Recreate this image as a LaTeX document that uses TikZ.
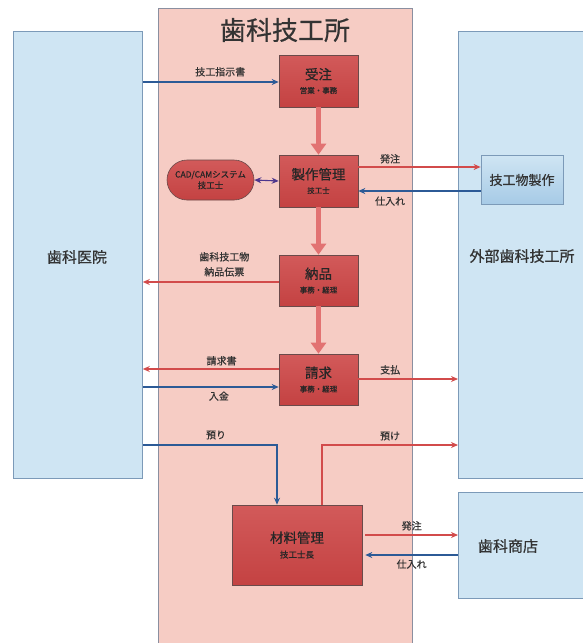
\documentclass[tikz,border=0pt]{standalone}
\usepackage{fontspec}
\setmainfont{Noto Sans CJK JP}[FakeBold=0.6]
\usetikzlibrary{arrows.meta,calc}
\definecolor{pinkbg}{HTML}{F6CCC4}
\definecolor{pinkedge}{HTML}{8A8FA0}
\definecolor{boxred}{HTML}{D25A5A}
\definecolor{boxredD}{HTML}{C44242}
\definecolor{boxedge}{HTML}{6A4A4A}
\definecolor{bluebg}{HTML}{CFE5F3}
\definecolor{bluedark}{HTML}{A6CAE6}
\definecolor{blueedge}{HTML}{7C9AB8}
\definecolor{arrred}{HTML}{D24B4B}
\definecolor{arrblue}{HTML}{2C5A96}
\definecolor{flowpink}{HTML}{E27272}
\definecolor{txt}{HTML}{333333}
\newcommand{\boxttl}{\fontsize{13.5}{15}\selectfont}
\newcommand{\boxsub}{\fontsize{7.5}{9}\selectfont}
\tikzset{
  outer/.style={draw=blueedge,fill=bluebg,line width=0.8pt,text=txt},
  bigtxt/.style={font=\fontsize{15}{17}\selectfont,text=txt},
  redbox/.style={draw=boxedge,top color=boxred,bottom color=boxredD,line width=0.6pt,text=black!85},
  redline/.style={draw=arrred,line width=1.1pt,-{Stealth[length=7pt,width=6pt]}},
  blueline/.style={draw=arrblue,line width=1.1pt,-{Stealth[length=7pt,width=6pt]}},
  flow/.style={draw=flowpink,line width=5pt,-{Triangle[length=11pt,width=15pt]}},
  lbl/.style={font=\fontsize{10}{12}\selectfont,text=txt,inner sep=0pt},
}
\begin{document}
\begin{tikzpicture}[x=1pt,y=-1pt]
\useasboundingbox (0,0) rectangle (582,643);
\fill[white] (0,0) rectangle (582,643);
% containers
\node[outer,minimum width=129pt,minimum height=447pt,anchor=north west,inner sep=0pt] (clinic) at (13,31) {};
\node[bigtxt] (clinicT) at (77,257) {歯科医院};
\draw[draw=pinkedge,fill=pinkbg,line width=0.8pt] (158,650) -- (158,8) -- (412,8) -- (412,650);
\node[font=\fontsize{26}{28}\selectfont,text=black!80] (title) at (285,30) {歯科技工所};
\node[outer,minimum width=130pt,minimum height=447pt,anchor=north west,inner sep=0pt] (ext) at (458,31) {};
\node[bigtxt] (extT) at (522,256) {外部歯科技工所};
\node[outer,minimum width=130pt,minimum height=106pt,anchor=north west,inner sep=0pt] (shop) at (458,492) {};
\node[bigtxt] (shopT) at (508,546) {歯科商店};
\node[draw=blueedge,top color=bluebg,bottom color=bluedark,line width=0.8pt,minimum width=82pt,minimum height=49pt,text=txt,font=\fontsize{13}{15}\selectfont,inner sep=1pt] (make) at (522,180) {技工物製作};
% process boxes
\node[redbox,minimum width=79pt,minimum height=52pt,align=center] (order) at (318.5,81) {{\boxttl 受注}\\[2pt]{\boxsub 営業・事務}};
\node[redbox,minimum width=79pt,minimum height=52pt,align=center] (prod) at (318.5,181) {{\boxttl 製作管理}\\[2pt]{\boxsub 技工士}};
\node[redbox,rounded corners=20pt,minimum width=87pt,minimum height=40pt,align=center,font=\fontsize{8.5}{11}\selectfont,inner sep=1pt] (cad) at (210.5,180) {CAD/CAMシステム\\技工士};
\node[redbox,minimum width=79pt,minimum height=51pt,align=center] (deliv) at (318.5,280.5) {{\boxttl 納品}\\[2pt]{\boxsub 事務・経理}};
\node[redbox,minimum width=79pt,minimum height=51pt,align=center] (bill) at (318.5,379.5) {{\boxttl 請求}\\[2pt]{\boxsub 事務・経理}};
\node[redbox,minimum width=130pt,minimum height=80pt,align=center] (mat) at (297,545) {{\boxttl 材料管理}\\[3pt]{\fontsize{8.5}{10}\selectfont 技工士長}};
% main flow
\draw[flow] (order.south) -- (prod.north);
\draw[flow] (prod.south) -- (deliv.north);
\draw[flow] (deliv.south) -- (bill.north);
% connectors
\draw[blueline] (clinic.east |- 0,82) -- (order.west |- 0,82) node[lbl,pos=0.57,above=5pt] (l1) {技工指示書};
\draw[draw=arrblue!60!violet,line width=1.1pt,{Stealth[length=7pt,width=6pt]}-{Stealth[length=7pt,width=6pt]}] (cad.east) -- (prod.west);
\draw[redline] (prod.east |- 0,167) -- (make.west |- 0,167) node[lbl,pos=0.26,above=3pt] (l2) {発注};
\draw[blueline] (make.west |- 0,191) -- (prod.east |- 0,191) node[lbl,pos=0.74,below=5pt] (l3) {仕入れ};
\draw[redline] (deliv.west |- 0,282) -- (clinic.east |- 0,282) node[lbl,pos=0.4,above=5pt,align=center] (l4) {歯科技工物\\[3pt]納品伝票};
\draw[redline] (bill.west |- 0,369) -- (clinic.east |- 0,369) node[lbl,pos=0.42,above=3pt] (l5) {請求書};
\draw[blueline] (clinic.east |- 0,387) -- (bill.west |- 0,387) node[lbl,pos=0.56,below=4pt] (l6) {入金};
\draw[redline] (bill.east |- 0,379) -- (ext.west |- 0,379) node[lbl,pos=0.32,above=4pt] (l7) {支払};
\coordinate (a1) at (277,445);
\draw[blueline] (clinic.east |- 0,445) -- (a1) -- (a1 |- mat.north);
\node[lbl] (l8) at (216,435) {預り};
\coordinate (b1) at (322,445);
\draw[redline] (b1 |- mat.north) -- (b1) -- (ext.west |- 0,445);
\node[lbl] (l9) at (390,436) {預け};
\draw[redline] ($(mat.east |- 0,535)+(3,0)$) -- (shop.west |- 0,535) node[lbl,pos=0.5,above=4pt] (l10) {発注};
\draw[blueline] (shop.west |- 0,555) -- ($(mat.east |- 0,555)+(3,0)$) node[lbl,pos=0.5,below=4pt] (l11) {仕入れ};
\end{tikzpicture}
\end{document}
